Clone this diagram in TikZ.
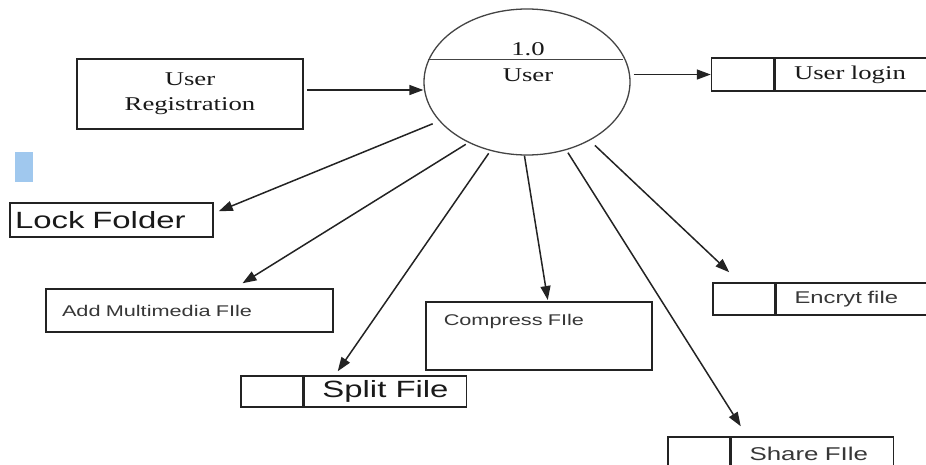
\documentclass[tikz,border=0pt]{standalone}
\usepackage{fontspec}
\usetikzlibrary{
  shapes.geometric,
  arrows.meta,
  positioning
}
\newfontfamily\serifwide[FakeStretch=1.37]{Liberation Serif}
\newfontfamily\sanswide[FakeStretch=1.4]{Liberation Sans}
\definecolor{linecolor}{RGB}{35, 35, 35}
\definecolor{labelcolor}{RGB}{25, 25, 25}
\definecolor{smalllabelcolor}{RGB}{55, 55, 55}
\definecolor{straycolor}{RGB}{160, 200, 238}
\tikzset{
seriftext/.style={
  font={\serifwide\fontsize{19.5pt}{25pt}\selectfont},
  text=labelcolor,
  inner sep=0pt
},
largetext/.style={
  font={\sanswide\fontsize{23.5pt}{28pt}\selectfont},
  text=labelcolor
},
smalltext/.style={
  font={\sanswide\fontsize{15.5pt}{19pt}\selectfont},
  text=smalllabelcolor
},
processcircle/.style={
  draw=linecolor!85,
  ellipse,
  line width=1.3pt,
  minimum width=206pt,
  minimum height=146pt,
  inner sep=0pt
},
entityblock/.style={
  draw=linecolor,
  line width=1.5pt,
  inner xsep=0pt
},
storeid/.style={
  draw=linecolor,
  line width=1.5pt,
  minimum width=62pt,
  minimum height=#1,
  inner sep=0pt
},
storelabel/.style={
  draw=linecolor,
  line width=1.5pt,
  minimum height=#1,
  inner ysep=0pt
},
divider/.style={
  draw=linecolor!85,
  line width=1.3pt
},
flowarrow/.style={
  -{Triangle[length=14pt,width=10pt]},
  line width=1.5pt,
  draw=linecolor,
  shorten <=3pt
}
}

\begin{document}
\begin{tikzpicture}[x=1pt, y=-1pt]
  \useasboundingbox (0,0) rectangle (926,464);

  % process
  \node[processcircle] (user) at (527,82) {};
  \draw[divider] (user.167) -- ++(195,0);
  \node[seriftext, anchor=base] (usernum) at (528,55) {1.0};
  \node[seriftext, anchor=base] (username) at (528,81) {User};

  % entity
  \node[entityblock, seriftext, minimum width=226pt, minimum height=70pt, align=center]
    (reg) at (190,94) {User\\Registration};

  % stores
  \node[storeid=33pt] (loginid) at (742.5,74.5) {};
  \node[storelabel=33pt, seriftext, right=0pt of loginid, text width=134pt, inner xsep=19pt, align=left]
    (login) {User login};
  \node[storeid=32pt] (encid) at (744,299) {};
  \node[storelabel=32pt, smalltext, font={\sanswide\fontsize{17pt}{20pt}\selectfont}, right=0pt of encid,
    text width=134pt, inner xsep=18pt, align=left] (encrypt) {Encryt file};
  \node[storeid=33pt] (shareid) at (699,453.5) {};
  \node[storelabel=33pt, smalltext, font={\sanswide\fontsize{18.5pt}{22pt}\selectfont}, right=0pt of shareid,
    text width=126pt, inner xsep=18pt, align=left] (share) {Share FIle};
  \node[storeid=31pt] (splitid) at (272,391.5) {};
  \node[storelabel=31pt, largetext, right=0pt of splitid, minimum width=162pt]
    (split) {Split File};

  % other boxes
  \node[entityblock, largetext, text width=193pt, inner xsep=5pt, minimum height=34pt, align=left]
    (lock) at (111.5,220) {Lock Folder};
  \node[entityblock, smalltext, text width=255pt, inner xsep=16pt, minimum height=43pt, align=left]
    (media) at (189.5,310.5) {Add Multimedia FIle};
  \node[entityblock, smalltext, text width=190pt, inner xsep=18pt, inner ysep=3pt,
    text height=21pt, text depth=41pt, align=left, anchor=north west]
    (compress) at (425,301) {Compress FIle};

  \fill[straycolor] (15,152) rectangle (33,182);

  % flows
  \draw[flowarrow] ([yshift=4pt]reg.east) -- ([yshift=4pt]reg.east -| user.west);
  \draw[flowarrow] (user.east |- loginid.west) -- (loginid.west);
  \draw[flowarrow, shorten <=7pt] (user.204) -- ([xshift=5pt,yshift=-9pt]lock.north east);
  \draw[flowarrow] (user.226) -- ([xshift=53pt,yshift=5pt]media.north);
  \draw[flowarrow] (user.242) -- ([xshift=34pt,yshift=4pt]split.north west);
  \draw[flowarrow, shorten <=0pt] (user.268) -- ([xshift=9pt,yshift=1pt]compress.north);
  \draw[flowarrow] (user.300) -- ([xshift=10pt,yshift=10pt]share.north west);
  \draw[flowarrow, shorten <=7pt] (user.317) -- ([xshift=17pt,yshift=10pt]encid.north west);
\end{tikzpicture}
\end{document}
